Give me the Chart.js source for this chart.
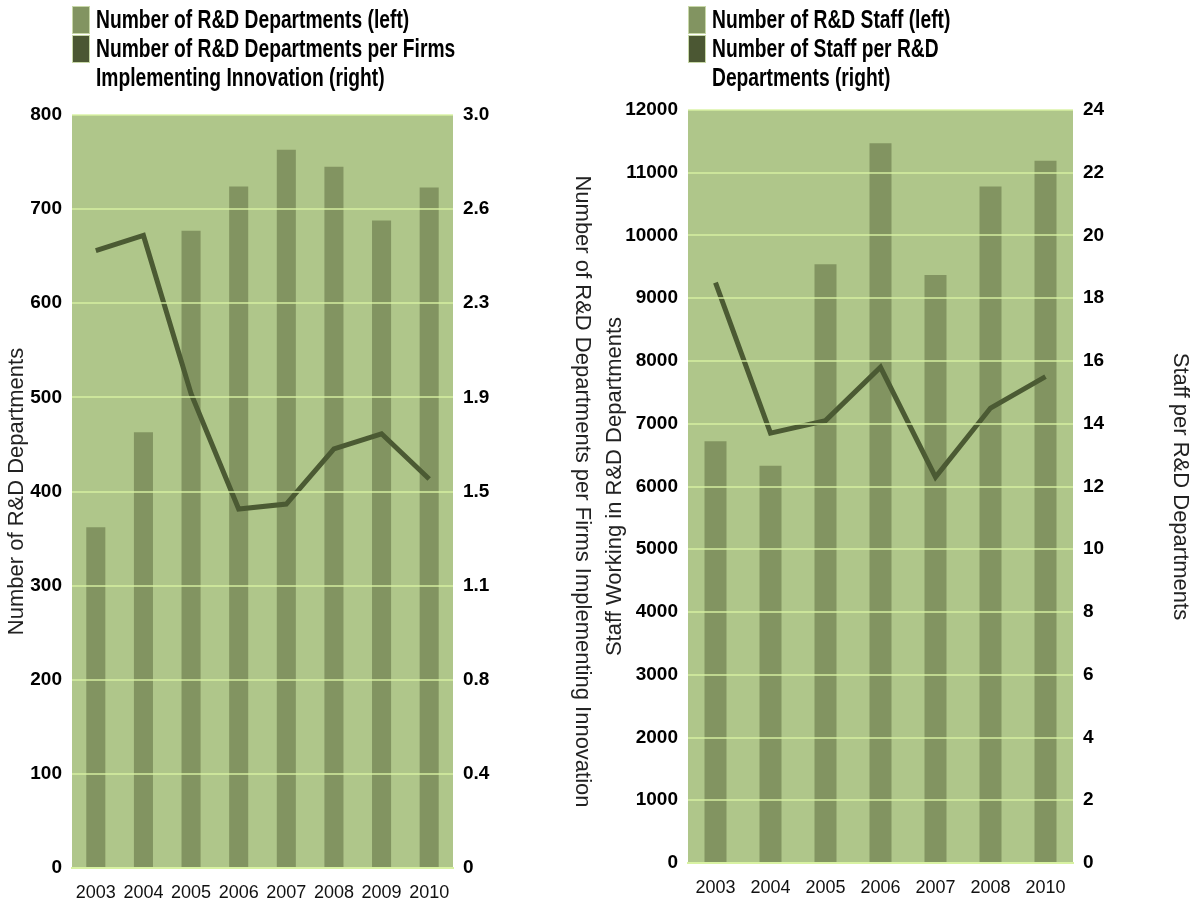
<!DOCTYPE html>
<html>
<head>
<meta charset="utf-8">
<script src="https://cdn.jsdelivr.net/npm/chart.js@4.4.0/dist/chart.umd.min.js"></script>
<style>
  html, body { margin: 0; padding: 0; background: #fff; }
  .panel { position: absolute; top: 0; width: 597px; height: 899px; }
  .legend { position: absolute; top: 5px; font-family: 'Liberation Sans', Arial, sans-serif; font-weight: bold; font-size: 26px; line-height: 29px; color: #000; }
  .legend .row { display: flex; align-items: flex-start; }
  .legend .sw { width: 18px; height: 28px; margin-right: 6px; margin-top: 1px; flex: none; box-sizing: border-box; border: 1px solid #c8d8a8; }
  .legend .txt { display: inline-block; transform: scaleX(0.74); transform-origin: left top; white-space: nowrap; }
</style>
</head>
<body>
<div class="panel" style="left:0"><canvas id="deptChart" width="597" height="899"></canvas>
  <div class="legend" style="left:72px">
    <div class="row"><span class="sw" style="background:#829461"></span><span class="txt">Number of R&amp;D Departments (left)</span></div>
    <div class="row"><span class="sw" style="background:#4b5733"></span><span class="txt">Number of R&amp;D Departments per Firms<br>Implementing Innovation (right)</span></div>
  </div>
</div>
<div class="panel" style="left:598px"><canvas id="staffChart" width="597" height="899"></canvas>
  <div class="legend" style="left:90px">
    <div class="row"><span class="sw" style="background:#829461"></span><span class="txt">Number of R&amp;D Staff (left)</span></div>
    <div class="row"><span class="sw" style="background:#4b5733"></span><span class="txt">Number of Staff per R&amp;D<br>Departments (right)</span></div>
  </div>
</div>
<script>
// left panel data
const deptYears = ['2003', '2004', '2005', '2006', '2007', '2008', '2009', '2010'];
const deptCount = [362, 463, 677, 724, 763, 745, 688, 723];
const deptPerFirm = [2.46, 2.52, 1.89, 1.43, 1.45, 1.67, 1.73, 1.55];
const deptRightTicks = ['0', '0.4', '0.8', '1.1', '1.5', '1.9', '2.3', '2.6', '3.0'];

// right panel data (no 2009 in source)
const staffYears = ['2003', '2004', '2005', '2006', '2007', '2008', '2010'];
const staffCount = [6720, 6330, 9540, 11470, 9370, 10780, 11190];
const staffPerDept = [18.5, 13.7, 14.1, 15.8, 12.3, 14.5, 15.5];

const BG = '#afc68a', BAR = '#829461', LINE = '#4b5a33', GRID = 'rgba(216,242,162,0.7)';
const SANS = "'Liberation Sans', Arial, sans-serif";

const plotBg = {
  id: 'plotBg',
  beforeDraw(chart) {
    const { ctx, chartArea: a } = chart;
    ctx.save();
    ctx.fillStyle = BG;
    ctx.fillRect(a.left, a.top, a.right - a.left, a.bottom - a.top);
    ctx.restore();
  }
};

function makeChart(id, o) {
  return new Chart(document.getElementById(id), {
    data: {
      labels: o.labels,
      datasets: [
        { type: 'line', data: o.line, yAxisID: 'y1', borderColor: LINE, borderWidth: 5, pointRadius: 0, tension: 0, order: 0 },
        { type: 'bar', data: o.bars, yAxisID: 'y', backgroundColor: BAR, barPercentage: 0.4, categoryPercentage: 1, order: 1 }
      ]
    },
    options: {
      responsive: false,
      animation: false,
      layout: { padding: { top: o.top, right: 2, left: 4, bottom: 0 } },
      plugins: { legend: { display: false }, tooltip: { enabled: false } },
      scales: {
        x: {
          grid: { display: false },
          border: { display: true, color: '#d8f2a2', width: 2 },
          ticks: { color: '#111', font: { family: SANS, size: 18 }, padding: 6, maxRotation: 0, autoSkip: false },
          afterFit: s => { s.height = o.xh; }
        },
        y: {
          position: 'left', min: 0, max: o.lmax,
          ticks: { stepSize: o.lstep, color: '#000', font: { family: SANS, size: 19, weight: 'bold' }, padding: 10, callback: v => String(v) },
          grid: { color: GRID, lineWidth: 2, z: 1, drawTicks: false },
          border: { display: false },
          title: { display: true, text: o.ltitle, color: '#222', font: { family: SANS, size: 22 }, padding: 0 },
          afterFit: s => { s.width = o.lw; }
        },
        y1: {
          position: 'right', min: 0, max: o.rmax,
          ticks: { stepSize: o.rstep, color: '#000', font: { family: SANS, size: 19, weight: 'bold' }, padding: 10, callback: o.rcb },
          grid: { display: false, drawTicks: false },
          border: { display: false },
          title: { display: true, text: o.rtitle, color: '#222', font: { family: SANS, size: 22 }, padding: 0 },
          afterFit: s => { s.width = o.rw; }
        }
      }
    },
    plugins: [plotBg]
  });
}

makeChart('deptChart', {
  labels: deptYears, bars: deptCount, line: deptPerFirm,
  lmax: 800, lstep: 100, rmax: 3, rstep: 0.375,
  rcb: (v, i) => deptRightTicks[i],
  ltitle: 'Number of R&D Departments',
  rtitle: 'Number of R&D Departments per Firms Implementing Innovation',
  top: 115, xh: 31, lw: 68, rw: 142
});

makeChart('staffChart', {
  labels: staffYears, bars: staffCount, line: staffPerDept,
  lmax: 12000, lstep: 1000, rmax: 24, rstep: 2,
  rcb: v => String(v),
  ltitle: 'Staff Working in R&D Departments',
  rtitle: 'Staff per R&D Departments',
  top: 110, xh: 36, lw: 86, rw: 120
});
</script>
</body>
</html>
